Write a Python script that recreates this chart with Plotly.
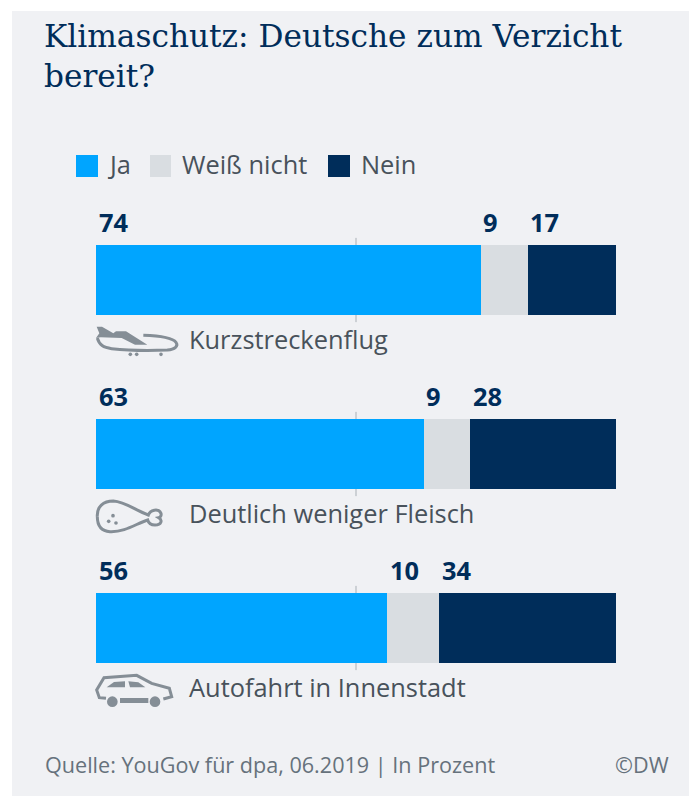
import plotly.graph_objects as go

title_lines = ["Klimaschutz: Deutsche zum Verzicht", "bereit?"]
categories = ["Kurzstreckenflug", "Deutlich weniger Fleisch", "Autofahrt in Innenstadt"]
series_names = ["Ja", "Weiß nicht", "Nein"]
ja = [74, 63, 56]
weiss_nicht = [9, 9, 10]
nein = [17, 28, 34]
source_text = "Quelle: YouGov für dpa, 06.2019 | In Prozent"
credit_text = "©DW"

BLUE, GREY, NAVY = "#00a5ff", "#d9dde1", "#002d5a"
PANEL, TEXT, FOOT, ICON = "#f0f1f4", "#48525b", "#66727c", "#858e96"
colors = [BLUE, GREY, NAVY]
PAGE_W, PAGE_H = 689, 796
L, R, T, B = 96, 616, 193, 715
SANS = "Open Sans, Noto Sans, sans-serif"
SERIF = "DejaVu Serif, serif"

def px(x, y):
    return (x - L) / (R - L), 1 - (y - T) / (B - T)

def poly(points, close=True, ox=80, oy=0):
    s = ""
    for i, (a, b) in enumerate(points):
        X, Y = px(ox + a / 3, oy + b / 3)
        s += ("M" if i == 0 else "L") + f"{X:.5f},{Y:.5f} "
    return s + ("Z" if close else "")

def curve(start, segs, close=False, ox=80, oy=0):
    X, Y = px(ox + start[0] / 3, oy + start[1] / 3)
    s = f"M{X:.5f},{Y:.5f} "
    for seg in segs:
        s += "C" + " ".join("{:.5f},{:.5f}".format(*px(ox + a / 3, oy + b / 3)) for a, b in seg) + " "
    return s + ("Z" if close else "")

def dot(cx, cy, r, ox=80, oy=0):
    x0, y0 = px(ox + (cx - r) / 3, oy + (cy - r) / 3)
    x1, y1 = px(ox + (cx + r) / 3, oy + (cy + r) / 3)
    return dict(type="circle", xref="paper", yref="paper", x0=x0, y0=y0, x1=x1, y1=y1,
                fillcolor=ICON, line_width=0)

def filled(path):
    return dict(type="path", xref="paper", yref="paper", path=path, fillcolor=ICON, line_width=0)

def stroked(path):
    return dict(type="path", xref="paper", yref="paper", path=path,
                line=dict(color=ICON, width=3), fillcolor="rgba(0,0,0,0)")

fig = go.Figure()
for name, vals, col in zip(series_names, [ja, weiss_nicht, nein], colors):
    fig.add_trace(go.Bar(x=vals, y=list(range(len(categories))), name=name, orientation="h",
                         marker=dict(color=col, line_width=0), showlegend=False))

x0, y0 = px(12, 11)
x1, y1 = px(PAGE_W, PAGE_H)
shapes = [dict(type="rect", xref="paper", yref="paper", x0=x0, y0=y0, x1=x1, y1=y1,
               fillcolor=PANEL, line_width=0, layer="below")]
# short marks at the 50 % position above and below every bar
for i in range(len(categories)):
    shapes.append(dict(type="line", xref="x", yref="y", x0=50, x1=50, y0=i - 0.242, y1=i + 0.242,
                       line=dict(color="#a9b0b6", width=1), layer="below"))

# plane
oy = 310
shapes += [
    stroked(curve((52, 84), [[(58, 105), (70, 113), (95, 116)], [(150, 122), (210, 122), (262, 120)],
                             [(285, 118), (296, 108), (288, 97)], [(278, 84), (250, 78), (190, 76)]], oy=oy)),
    filled(poly([(50, 50), (66, 50), (100, 70), (108, 64), (138, 64), (202, 104), (165, 104),
                 (125, 84), (62, 82), (48, 84), (58, 70)], oy=oy)),
    dot(151, 133, 5.5, oy=oy), dot(170, 133, 5.5, oy=oy), dot(243, 133, 5.5, oy=oy),
]
# drumstick
oy = 485
shapes += [
    stroked(curve((52, 95), [[(50, 65), (70, 48), (100, 48)], [(135, 50), (165, 75), (205, 90)],
                             [(210, 75), (235, 68), (243, 85)], [(245, 93), (240, 97), (236, 98)],
                             [(248, 105), (245, 120), (225, 120)], [(212, 120), (205, 112), (203, 105)],
                             [(170, 115), (135, 142), (90, 140)], [(65, 138), (52, 125), (52, 95)]], oy=oy)),
    dot(99, 92, 5.5, oy=oy), dot(86, 109, 5.5, oy=oy), dot(108, 114, 5.5, oy=oy),
]
# car
oy = 655
shapes += [
    stroked(poly([(78, 130), (58, 128), (50, 105), (72, 68), (170, 61), (215, 85), (268, 100),
                  (275, 125), (250, 132)], close=False, oy=oy)),
    filled(poly([(120, 129), (205, 129), (205, 144), (120, 144)], oy=oy)),
    filled(poly([(80, 97), (102, 81), (135, 79), (135, 97)], oy=oy)),
    filled(poly([(145, 79), (175, 82), (196, 97), (150, 97)], oy=oy)),
    dot(97, 140, 16, oy=oy), dot(225, 140, 16, oy=oy),
]

ann = []
def text(x, y, s, size, color, family=SANS, anchor="left"):
    X, Y = px(x, y)
    ann.append(dict(xref="paper", yref="paper", x=X, y=Y, text=s, showarrow=False, xanchor=anchor,
                    yanchor="middle", align="left", font=dict(size=size, color=color, family=family)))

for line, y in zip(title_lines, [36, 76]):
    text(42, y, line, 31.2, NAVY, SERIF)
for name, col, sx, tx, w in zip(series_names, colors, [76, 150, 328], [105, 180, 359], [22, 21, 22]):
    a, b = px(sx, 155)
    c, d = px(sx + w, 177)
    shapes.append(dict(type="rect", xref="paper", yref="paper", x0=a, y0=b, x1=c, y1=d,
                       fillcolor=col, line_width=0))
    text(tx, 164, name, 25.4, TEXT)
for i, cat in enumerate(categories):
    text(187, 339 + i * 174, cat, 25.4, TEXT)
    start = 0
    for vals in [ja, weiss_nicht, nein]:
        ann.append(dict(xref="x", yref="y", x=start, y=i, text=f"<b>{vals[i]}</b>", showarrow=False,
                        xanchor="left", yanchor="middle", xshift=0.5, yshift=58,
                        font=dict(size=25.4, color=NAVY, family=SANS)))
        start += vals[i]
text(43, 764, source_text, 21.6, FOOT)
text(671, 764, credit_text, 21.6, FOOT, anchor="right")

fig.update_layout(
    width=PAGE_W, height=PAGE_H, barmode="stack", bargap=1 - 70 / 174, autosize=False,
    margin=dict(l=L, r=PAGE_W - R, t=T, b=PAGE_H - B, pad=0),
    paper_bgcolor="white", plot_bgcolor="rgba(0,0,0,0)",
    xaxis=dict(range=[0, 100], visible=False, fixedrange=True),
    yaxis=dict(range=[2.5, -0.5], visible=False, fixedrange=True),
    shapes=shapes, annotations=ann,
)
fig.write_html("out.html", config={"displayModeBar": False},
               default_width=f"{PAGE_W}px", default_height=f"{PAGE_H}px",
               post_script="document.body.style.margin='0';document.documentElement.style.overflow='hidden';")
